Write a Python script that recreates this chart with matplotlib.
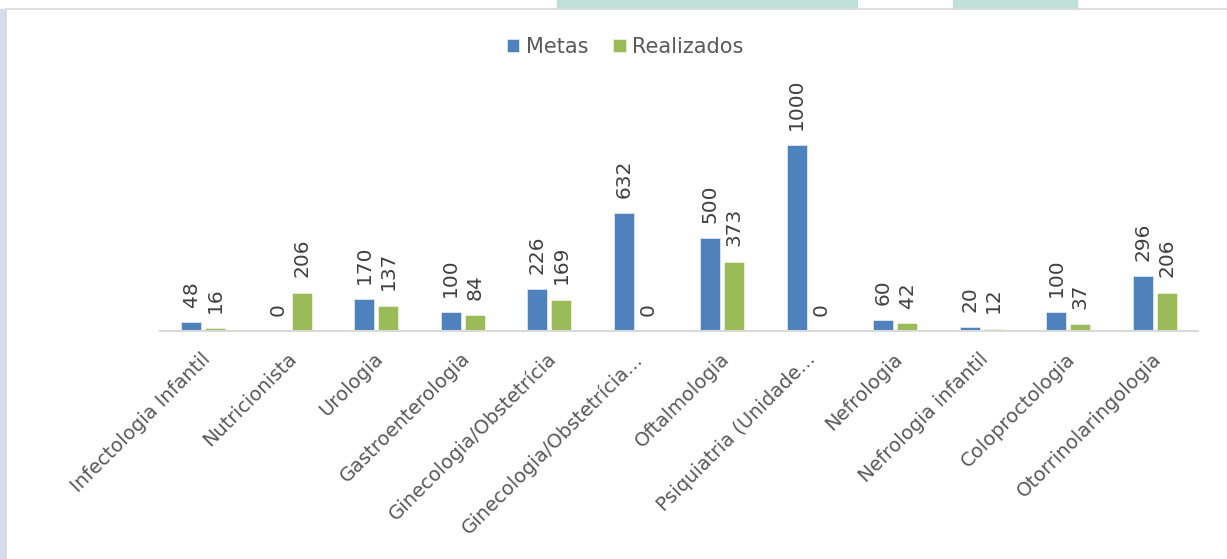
import matplotlib
matplotlib.use("Agg")
import matplotlib.pyplot as plt
import numpy as np
from matplotlib.patches import Rectangle

categorias = [
    "Infectologia Infantil", "Nutricionista", "Urologia", "Gastroenterologia",
    "Ginecologia/Obstetrícia", "Ginecologia/Obstetrícia...", "Oftalmologia",
    "Psiquiatria (Unidade...", "Nefrologia", "Nefrologia infantil",
    "Coloproctologia", "Otorrinolaringologia",
]
metas = [48, 0, 170, 100, 226, 632, 500, 1000, 60, 20, 100, 296]
realizados = [16, 206, 137, 84, 169, 0, 373, 0, 42, 12, 37, 206]

AZUL = "#4F81BD"
VERDE = "#9BBB59"
TEXTO = "#404040"

fig = plt.figure(figsize=(12.27, 5.59), dpi=100)

# slide background bits behind the chart box (pixel coords)
bg = fig.add_axes([0, 0, 1, 1], zorder=-10)
bg.set_xlim(0, 1227)
bg.set_ylim(559, 0)
bg.axis("off")
bg.add_patch(Rectangle((557, 0), 300, 9, color="#BFE0D8"))
bg.add_patch(Rectangle((953, 0), 124, 9, color="#BFE0D8"))
bg.add_patch(Rectangle((0, 9), 6, 550, color="#D3DEEA"))
bg.add_patch(Rectangle((6, 9), 1230, 560, facecolor="white", edgecolor="#D9D9D9",
                       linewidth=1.2))

ax = fig.add_axes([160 / 1227, 1 - 331 / 559, 1038 / 1227, 204.6 / 559])
ax.patch.set_alpha(0)

x = np.arange(len(categorias))
w = 0.23
off = 0.139
b1 = ax.bar(x - off, metas, w, color=AZUL, edgecolor="#DCE6F2", linewidth=0.6,
            label="Metas")
b2 = ax.bar(x + off, realizados, w, color=VERDE, edgecolor="#EBF1DE", linewidth=0.6,
            label="Realizados")

for bars in (b1, b2):
    ax.bar_label(bars, padding=11, rotation=90, fontsize=14.5, color=TEXTO)

ax.set_xlim(-0.5, len(categorias) - 0.5)
ax.set_ylim(0, 1100)
ax.set_yticks([])
for s in ("top", "right", "left"):
    ax.spines[s].set_visible(False)
ax.spines["bottom"].set_color("#D9D9D9")
ax.spines["bottom"].set_linewidth(1.5)

ax.set_xticks(x - 0.03)
ax.set_xticklabels(categorias, rotation=45, ha="right", rotation_mode="anchor",
                   fontsize=14, color="#595959")
ax.tick_params(axis="x", length=0, pad=13)

fig.legend(handles=[b1, b2], loc="center", bbox_to_anchor=(625 / 1227, 1 - 47 / 559),
           ncol=2, frameon=False, fontsize=15, handlelength=0.6, handleheight=0.6,
           handletextpad=0.3, columnspacing=1.2, labelcolor="#595959")

fig.savefig("out.png", dpi=100)
